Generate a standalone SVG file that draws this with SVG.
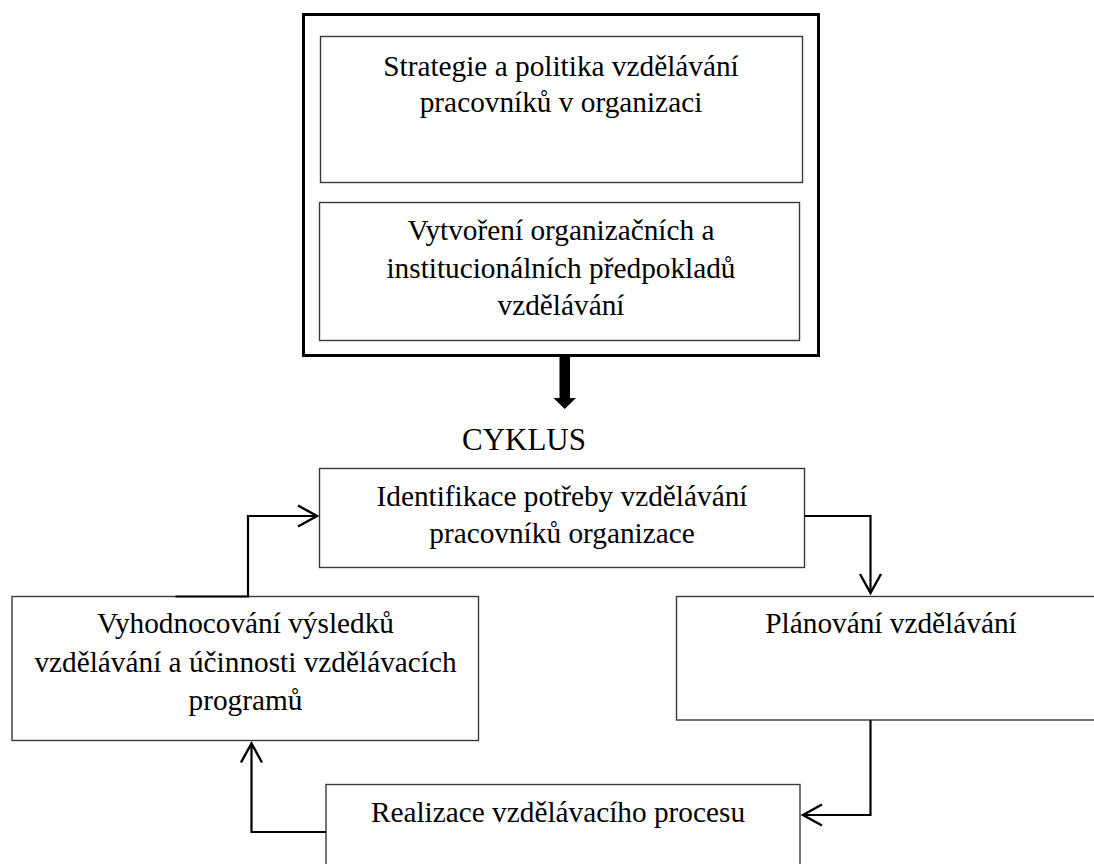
<svg xmlns="http://www.w3.org/2000/svg" width="1094" height="864" viewBox="0 0 1094 864">
  <style>
    .box { fill: #ffffff; stroke: #3a3a3a; stroke-width: 1.4; }
    .frame { fill: none; stroke: #000000; stroke-width: 3; }
    .lbl { font-family: "Liberation Serif", "Times New Roman", serif; font-size: 29.3px; fill: #000000; text-anchor: middle; }
    .title { font-size: 31px; }
    .wire { fill: none; stroke: #000000; stroke-width: 2.2; }
  </style>
  <defs>
    <marker id="open" markerUnits="userSpaceOnUse" markerWidth="24" markerHeight="26" refX="20" refY="12" orient="auto">
      <path d="M1,1.5 L20,12 L1,22.5" fill="none" stroke="#000000" stroke-width="2.4"/>
    </marker>
  </defs>

  <rect x="0" y="0" width="1094" height="864" fill="#ffffff"/>

  <!-- policy frame with its two blocks -->
  <g id="frame">
    <rect class="frame" x="303.5" y="14.5" width="515" height="341"/>
  </g>
  <g id="strategie">
    <rect class="box" x="320.5" y="36.5" width="482" height="146"/>
    <text class="lbl" x="561" y="76">Strategie a politika vzdělávání</text>
    <text class="lbl" x="561" y="112">pracovníků v organizaci</text>
  </g>
  <g id="predpoklady">
    <rect class="box" x="319.5" y="202.5" width="480" height="138"/>
    <text class="lbl" x="561" y="240">Vytvoření organizačních a</text>
    <text class="lbl" x="561" y="277.5">institucionálních předpokladů</text>
    <text class="lbl" x="561" y="315">vzdělávání</text>
  </g>

  <!-- heavy arrow into the cycle -->
  <g id="vstup">
    <polygon points="559.5,355 570,355 570,398 576,398 564.75,409 553.5,398 559.5,398" fill="#000000"/>
  </g>

  <g id="cyklus">
    <text class="lbl title" x="524" y="450">CYKLUS</text>
  </g>

  <!-- cycle steps -->
  <g id="identifikace">
    <rect class="box" x="319.5" y="468.5" width="485" height="99"/>
    <text class="lbl" x="562" y="506">Identifikace potřeby vzdělávání</text>
    <text class="lbl" x="562" y="543">pracovníků organizace</text>
  </g>
  <g id="planovani">
    <rect class="box" x="676.5" y="596.5" width="430" height="123.5"/>
    <text class="lbl" x="891" y="633">Plánování vzdělávání</text>
  </g>
  <g id="realizace">
    <rect class="box" x="326" y="784.5" width="474" height="100"/>
    <text class="lbl" x="558" y="821.5">Realizace vzdělávacího procesu</text>
  </g>
  <g id="vyhodnocovani">
    <rect class="box" x="12" y="596.5" width="466.5" height="144"/>
    <text class="lbl" x="245.5" y="633">Vyhodnocování výsledků</text>
    <text class="lbl" x="245.5" y="671.5">vzdělávání a účinnosti vzdělávacích</text>
    <text class="lbl" x="245.5" y="710">programů</text>
  </g>

  <!-- connectors of the cycle -->
  <g id="connectors">
    <path class="wire" d="M175.5,596.5 H248 V516 H317" marker-end="url(#open)"/>
    <path class="wire" d="M804.5,516 H870.5 V593" marker-end="url(#open)"/>
    <path class="wire" d="M870.5,720 V815 H803" marker-end="url(#open)"/>
    <path class="wire" d="M326,832 H251.5 V743.5" marker-end="url(#open)"/>
  </g>
</svg>
